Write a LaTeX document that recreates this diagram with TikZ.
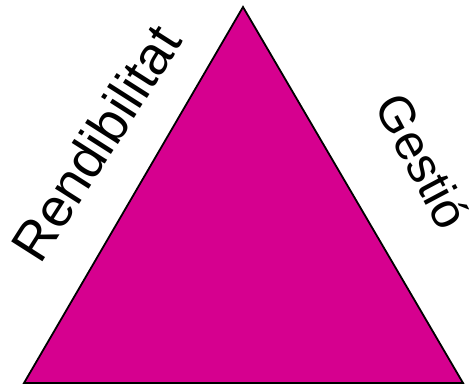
\documentclass[tikz,border=0pt]{standalone}
\usepackage{fontspec}
\setmainfont{Liberation Sans}
\definecolor{tri}{RGB}{214,0,143}
\begin{document}
\begin{tikzpicture}[x=1bp,y=1bp,
  lbl/.style={inner sep=0pt,font=\fontsize{54}{64}\selectfont}]
\useasboundingbox (0,0) rectangle (474,388);
\coordinate (bl) at (24,5);
\coordinate (br) at (463,5);
\coordinate (tp) at (243,381);
\filldraw[fill=tri,draw=black,line width=1.8bp,line join=miter] (bl) -- (br) -- (tp) -- cycle;
\node[lbl,rotate=57.5] (r) at (96,245) {Rendibilitat};
\node[lbl,rotate=-62,font=\fontsize{50}{60}\selectfont] (g) at (423,227) {Gestió};
\end{tikzpicture}
\end{document}
